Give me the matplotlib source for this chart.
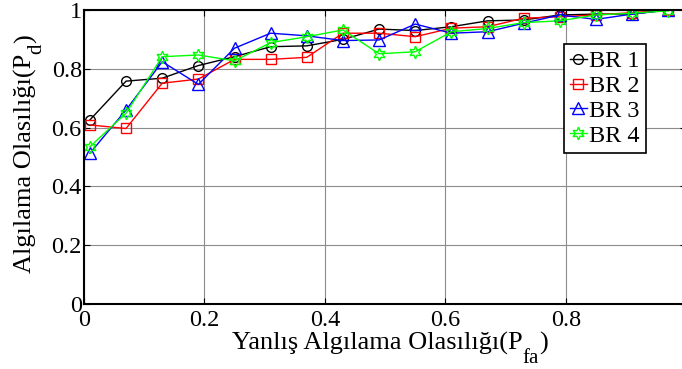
import numpy as np
from matplotlib import pyplot as plt

plt.rcParams['font.family'] = 'Liberation Serif'

pfa = [0.01, 0.07, 0.13, 0.19, 0.25, 0.31, 0.37, 0.43, 0.49,
       0.55, 0.61, 0.67, 0.73, 0.79, 0.85, 0.91, 0.97]
br1 = [0.626, 0.758, 0.768, 0.811, 0.841, 0.875, 0.878, 0.900, 0.935,
       0.930, 0.943, 0.963, 0.966, 0.983, 0.986, 0.986, 1.0]
br2 = [0.609, 0.597, 0.751, 0.765, 0.832, 0.832, 0.839, 0.921, 0.921,
       0.909, 0.938, 0.943, 0.972, 0.977, 0.983, 0.991, 1.0]
br3 = [0.513, 0.660, 0.824, 0.747, 0.870, 0.921, 0.912, 0.896, 0.898,
       0.952, 0.921, 0.926, 0.955, 0.983, 0.968, 0.986, 1.0]
br4 = [0.535, 0.649, 0.841, 0.847, 0.827, 0.889, 0.909, 0.932, 0.851,
       0.858, 0.926, 0.937, 0.957, 0.963, 0.983, 0.989, 0.997]
labels = ['BR 1', 'BR 2', 'BR 3', 'BR 4']
ticklabels = ['0', '0.2', '0.4', '0.6', '0.8', '1']

fig = plt.figure(figsize=(6.82, 3.69), dpi=100)
ax = fig.add_axes([0.123, 0.176, 0.8834, 0.797])

ax.plot(pfa, br1, color='k', lw=1.0, marker='o', ms=7, mfc='none', mew=1.0, label=labels[0])
ax.plot(pfa, br2, color='#ff0000', lw=1.0, marker='s', ms=7, mfc='none', mew=1.0, label=labels[1])
ax.plot(pfa, br3, color='#0000ff', lw=1.0, marker='^', ms=8.5, mfc='none', mew=1.0, label=labels[2])
ax.plot(pfa, br4, color='#00ff00', lw=1.0, marker=(6, 1, 0), ms=9, mfc='none', mew=1.0, label=labels[3])

ax.set_xlim(0, 1)
ax.set_ylim(0, 1)
ax.set_xticks(np.arange(0, 1.01, 0.2))
ax.set_yticks(np.arange(0, 1.01, 0.2))
ax.set_xticklabels(ticklabels)
ax.set_yticklabels(ticklabels)
ax.grid(True, color='#8c8c8c', lw=0.8)
ax.tick_params(direction='in', top=True, right=True, labelsize=17.5, length=4)
ax.tick_params(axis='x', pad=4.5)
ax.tick_params(axis='y', pad=1.5)
for s in ax.spines.values():
    s.set_linewidth(1.5)

# x label with a dropped subscript, built from pieces (pixel coords from bottom-left)
xl = fig.text(232 / 682, 19 / 369, 'Yanlış Algılama Olasılığı(P', fontsize=19,
              ha='left', va='baseline')
xs = ax.annotate('fa', xy=(1, 6), xycoords=(xl, 'figure pixels'), fontsize=15,
                 ha='left', va='baseline', annotation_clip=False)
ax.annotate(')', xy=(1, 19), xycoords=(xs, 'figure pixels'), fontsize=19,
            ha='left', va='baseline', annotation_clip=False)

# y label, rotated
yl = fig.text(32 / 682, 96 / 369, 'Algılama Olasılığı(P', fontsize=19, rotation=90,
              rotation_mode='anchor', ha='left', va='baseline')
ys = ax.annotate('d', xy=(41, 1), xycoords=('figure pixels', yl), fontsize=15, rotation=90,
                 rotation_mode='anchor', ha='left', va='baseline', annotation_clip=False)
ax.annotate(')', xy=(32, 1), xycoords=('figure pixels', ys), fontsize=19, rotation=90,
            rotation_mode='anchor', ha='left', va='baseline', annotation_clip=False)

leg = ax.legend(loc='upper right', bbox_to_anchor=(646 / 682, 1 - 44 / 369),
                bbox_transform=fig.transFigure, fontsize=17.5, handlelength=0.7,
                handletextpad=0.1, borderpad=0.25, labelspacing=0.12,
                borderaxespad=0, fancybox=False, framealpha=1, edgecolor='k')
leg.get_frame().set_linewidth(1.2)

plt.savefig('out.png', dpi=100)
